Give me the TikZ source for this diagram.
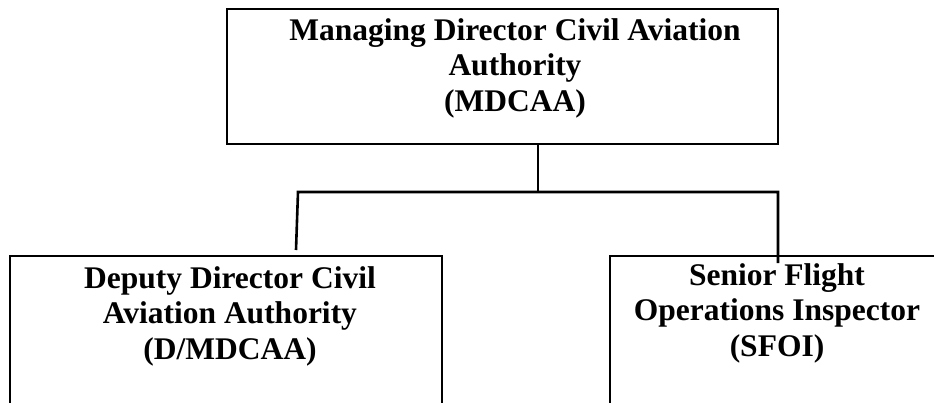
\documentclass[tikz,border=0pt]{standalone}
\usepackage{fontspec}
\setmainfont{Liberation Serif}
\begin{document}
\begin{tikzpicture}[x=1pt,y=-1pt,
  box/.style={draw,line width=2.8pt,rectangle,inner sep=0pt,outer sep=0pt},
  lbl/.style={align=center,font=\fontsize{31.5}{35.5}\selectfont\bfseries,inner sep=0pt,anchor=base},
  conn/.style={line width=2.6pt}]
\useasboundingbox (0,0) rectangle (934,402);
\clip (0,0) rectangle (934,402);
% boxes
\node[box,minimum width=551pt,minimum height=135pt] (top) at (502.5,76.5) {};
\node[box,minimum width=432pt,minimum height=180pt] (lbox) at (226,346) {};
\node[box,minimum width=360pt,minimum height=180pt] (rbox) at (790,346) {};
% labels (anchored at the baseline of the last line)
\node[lbl] (ttop) at (515,111) {Managing Director Civil Aviation\\Authority\\(MDCAA)};
\node[lbl] (tl) at (230,359) {Deputy Director Civil\\Aviation Authority\\(D/MDCAA)};
\node[lbl] (tr) at (777,356) {Senior Flight\\Operations Inspector\\(SFOI)};
% connectors
\coordinate (j) at (538,192);
\coordinate (lj) at (298,192);
\coordinate (rj) at (778,192);
\coordinate (le) at (296,250);
\coordinate (re) at (778,263);
\draw[conn] (top.south -| j) -- (j);
\draw[conn] (le) -- (lj) -- (rj) -- (re);
\end{tikzpicture}
\end{document}
